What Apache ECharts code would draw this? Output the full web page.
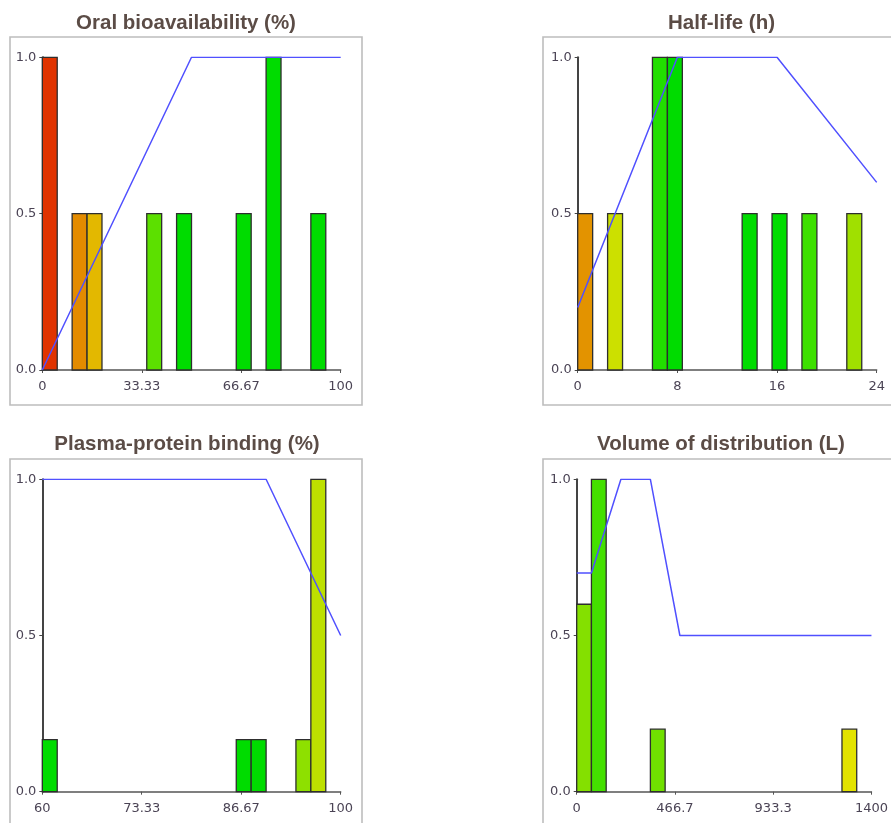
<!DOCTYPE html>
<html>
<head>
<meta charset="utf-8">
<script src="https://cdn.jsdelivr.net/npm/echarts@6/dist/echarts.min.js"></script>
<style>
html,body{margin:0;padding:0;background:#fff;}
#chart{width:891px;height:823px;}
</style>
</head>
<body>
<div id="chart"></div>
<script>
// ---- Data ----
const titles = ['Oral bioavailability (%)', 'Half-life (h)', 'Plasma-protein binding (%)', 'Volume of distribution (L)'];

// Panel 1: Oral bioavailability (%)
const xRange1 = [0, 100];
const xTicks1 = [0, 33.33, 66.67, 100];
const binStart1 = [0, 10, 15, 35, 45, 65, 75, 90];
const binWidth1 = 5;
const binHeight1 = [1, 0.5, 0.5, 0.5, 0.5, 0.5, 1, 0.5];
const binColor1 = ['#e03300', '#e38b00', '#e3b800', '#5ce000', '#00dc00', '#00dc00', '#00dc00', '#00dc00'];
const curve1 = [[0, 0], [50, 1], [100, 1]];

// Panel 2: Half-life (h)
const xRange2 = [0, 24];
const xTicks2 = [0, 8, 16, 24];
const binStart2 = [0, 2.4, 6.0, 7.2, 13.2, 15.6, 18.0, 21.6];
const binWidth2 = 1.2;
const binHeight2 = [0.5, 0.5, 1, 1, 0.5, 0.5, 0.5, 0.5];
const binColor2 = ['#e39300', '#cce000', '#22de00', '#00dc00', '#00dc00', '#00dc00', '#3de000', '#a0e000'];
const curve2 = [[0, 0.2], [8, 1], [16, 1], [24, 0.6]];

// Panel 3: Plasma-protein binding (%)
const xRange3 = [60, 100];
const xTicks3 = [60, 73.33, 86.67, 100];
const binStart3 = [60, 86, 88, 94, 96];
const binWidth3 = 2;
const binHeight3 = [0.167, 0.167, 0.167, 0.167, 1];
const binColor3 = ['#00dc00', '#00dc00', '#00dc00', '#8ee000', '#bde000'];
const curve3 = [[60, 1], [90, 1], [100, 0.5]];

// Panel 4: Volume of distribution (L)
const xRange4 = [0, 1400];
const xTicks4 = [0, 466.7, 933.3, 1400];
const binStart4 = [0, 70, 350, 1260];
const binWidth4 = 70;
const binHeight4 = [0.6, 1, 0.2, 0.2];
const binColor4 = ['#84e000', '#44e000', '#70e000', '#e3e300'];
const curve4 = [[0, 0.7], [70, 0.7], [210, 1], [350, 1], [490, 0.5], [1400, 0.5]];

const yTicks = [0, 0.5, 1];

// ---- Layout ----
const panels = [
  {range: xRange1, ticks: xTicks1, start: binStart1, w: binWidth1, h: binHeight1, c: binColor1, curve: curve1,
   grid: {left: 42.3, top: 57.3, width: 298.4, height: 312.7}, frame: [10, 37, 352, 368], tx: 186, ty: 13},
  {range: xRange2, ticks: xTicks2, start: binStart2, w: binWidth2, h: binHeight2, c: binColor2, curve: curve2,
   grid: {left: 577.7, top: 57.3, width: 299, height: 312.7}, frame: [543, 37, 360, 368], tx: 721.5, ty: 13},
  {range: xRange3, ticks: xTicks3, start: binStart3, w: binWidth3, h: binHeight3, c: binColor3, curve: curve3,
   grid: {left: 42.3, top: 479.3, width: 298.4, height: 312.4}, frame: [10, 459, 352, 400], tx: 187, ty: 434},
  {range: xRange4, ticks: xTicks4, start: binStart4, w: binWidth4, h: binHeight4, c: binColor4, curve: curve4,
   grid: {left: 576.7, top: 479.3, width: 299.3, height: 312.4}, frame: [543, 459, 360, 400], tx: 721, ty: 434}
];

const labelFont = 'DejaVu Sans';
const labelColor = '#4b4455';

const grids = [], xAxes = [], yAxes = [], series = [], graphics = [];

panels.forEach((p, i) => {
  graphics.push({
    type: 'rect', silent: true, z: -10,
    shape: {x: p.frame[0], y: p.frame[1], width: p.frame[2], height: p.frame[3]},
    style: {fill: '#ffffff', stroke: '#bdbdbd', lineWidth: 1.6}
  });
  graphics.push({
    type: 'text', silent: true,
    x: p.tx, y: p.ty,
    style: {text: titles[i], fill: '#5b4c46', font: 'bold 20.5px "Liberation Sans", Arial, sans-serif',
            textAlign: 'center', textVerticalAlign: 'top'}
  });
  grids.push(Object.assign({containLabel: false}, p.grid));
  xAxes.push({
    type: 'value', gridIndex: i, min: p.range[0], max: p.range[1],
    splitLine: {show: false},
    axisLine: {show: true, onZero: false, lineStyle: {color: '#555', width: 1.5}},
    axisTick: {show: true, length: 3, customValues: p.ticks, lineStyle: {color: '#555', width: 1}},
    axisLabel: {customValues: p.ticks, formatter: v => String(v), margin: 10,
                fontFamily: labelFont, fontSize: 13, color: labelColor}
  });
  yAxes.push({
    type: 'value', gridIndex: i, min: 0, max: 1,
    splitLine: {show: false},
    axisLine: {show: true, onZero: false, lineStyle: {color: '#444', width: 2}},
    axisTick: {show: true, length: 3, customValues: yTicks, lineStyle: {color: '#444', width: 1}},
    axisLabel: {customValues: yTicks, formatter: v => v.toFixed(1), margin: 6,
                fontFamily: labelFont, fontSize: 13, color: labelColor}
  });
  const barData = p.start.map((s, k) => [s, s + p.w, p.h[k], k]);
  const colors = p.c;
  series.push({
    type: 'custom', xAxisIndex: i, yAxisIndex: i, z: 2,
    encode: {x: [0, 1], y: 2},
    data: barData,
    renderItem: (params, api) => {
      const x0 = api.value(0), x1 = api.value(1), hh = api.value(2);
      const a = api.coord([x0, hh]);
      const b = api.coord([x1, 0]);
      return {
        type: 'rect',
        shape: {x: a[0], y: a[1], width: b[0] - a[0], height: b[1] - a[1]},
        style: {fill: colors[api.value(3)], stroke: '#2e2e2e', lineWidth: 1.3}
      };
    }
  });
  series.push({
    type: 'line', xAxisIndex: i, yAxisIndex: i, z: 5,
    data: p.curve, symbol: 'none', silent: true,
    lineStyle: {color: '#5050ff', width: 1.5}
  });
});

const chart = echarts.init(document.getElementById('chart'), null, {renderer: 'canvas'});
chart.setOption({
  backgroundColor: '#ffffff',
  animation: false,
  graphic: graphics,
  grid: grids,
  xAxis: xAxes,
  yAxis: yAxes,
  series: series
});
</script>
</body>
</html>
